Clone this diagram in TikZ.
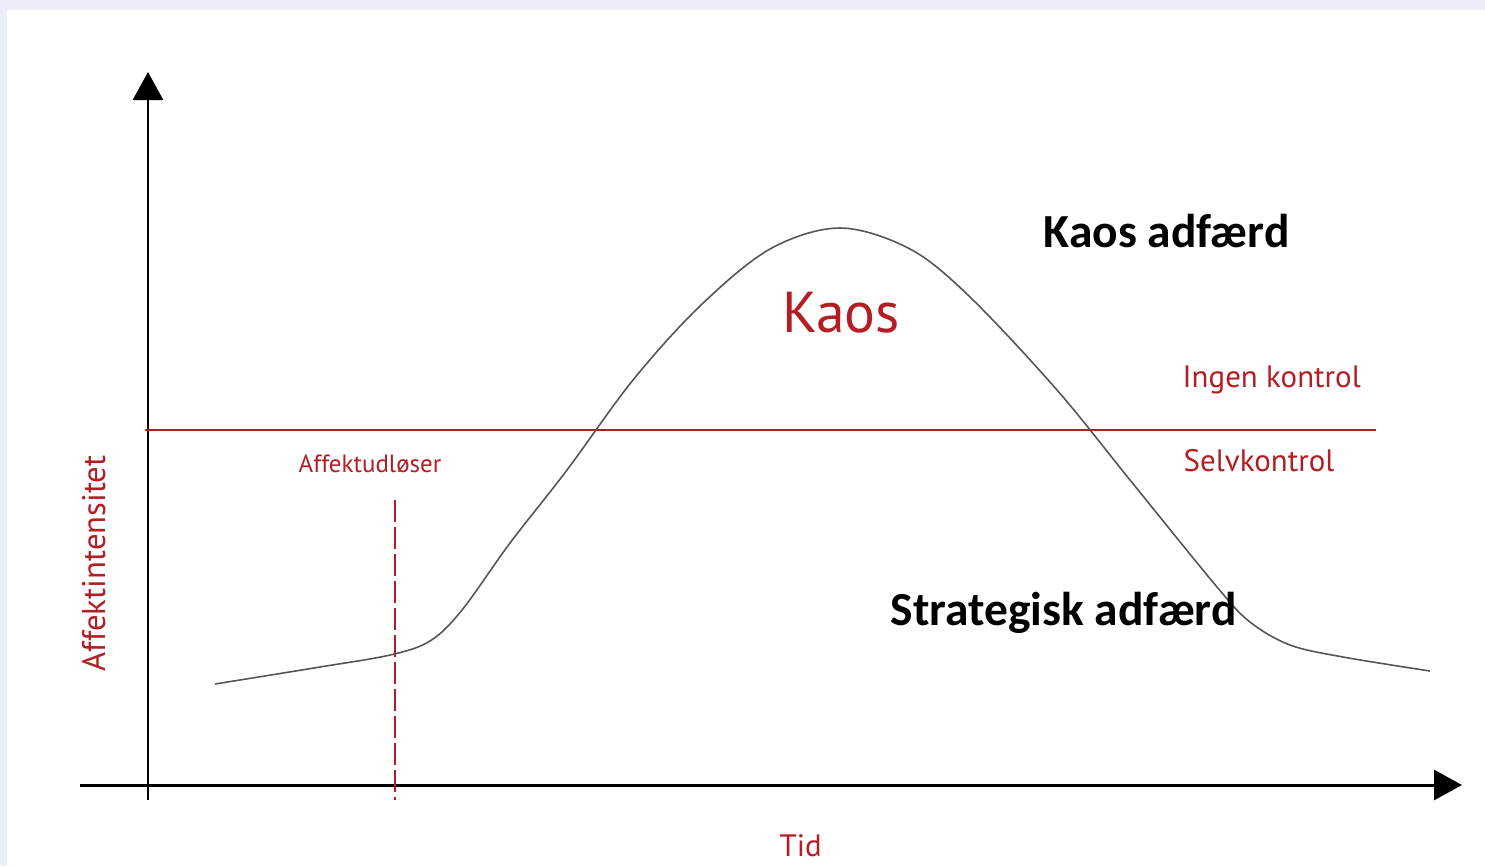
\documentclass[tikz,border=0pt]{standalone}
\usepackage{fontspec}
\usetikzlibrary{arrows.meta}
\newfontfamily\boldfont[BoldFont={Carlito Bold}]{Carlito}
\newfontfamily\redfont{PT Sans}
\definecolor{bgblue}{HTML}{EBEEF8}
\definecolor{kaosred}{HTML}{B31E24}
\definecolor{curvegray}{HTML}{555555}

\begin{document}
\begin{tikzpicture}[x=0.01cm,y=-0.01cm]

  \tikzstyle{axis}=[line width=0.85pt,-{Triangle[length=0.28cm,width=0.3cm]}]
  \tikzstyle{redlbl}=[kaosred,inner sep=0pt,font=\redfont\fontsize{8.8}{10}\selectfont]
  \tikzstyle{blklbl}=[black,inner sep=0pt,font=\boldfont\bfseries\fontsize{13.5}{16}\selectfont]

  \useasboundingbox (0,0) rectangle (1485,866);
  \fill[bgblue] (0,0) rectangle (1485,866);
  \fill[white] (7,10) rectangle (1485,866);

  % axes
  \coordinate (ybot) at (148,800);
  \coordinate (ytop) at (148,72);
  \coordinate (xleft) at (80,785);
  \coordinate (xright) at (1462,785);
  \draw[axis] (ybot) -- (ytop);
  \draw[axis] (xleft) -- (xright);

  % grænse mellem selvkontrol og kaos
  \coordinate (gl) at (145,430);
  \coordinate (gr) at (1376,430);
  \draw[kaosred,line width=0.75pt] (gl) -- (gr);

  \coordinate (udtop) at (395,500);
  \coordinate (udbot) at (395,800);
  \draw[kaosred,line width=0.75pt,dash pattern=on 0.22cm off 0.05cm] (udtop) -- (udbot);

  % affektkurven
  \draw[curvegray,line width=0.45pt] plot[smooth,tension=0.55] coordinates {
    (215,684) (320,667) (390,655) (430,641) (462,610) (510,543) (567,470)
    (633,380) (700,306) (770,249) (840,228) (910,249) (970,297) (1057,390)
    (1130,480) (1217,587) (1250,622) (1290,645) (1343,657) (1430,671)};

  \foreach \name/\pos/\text in {ingen/{1182,387}/Ingen kontrol,
                                selv/{1183,471}/Selvkontrol}
    \node[redlbl,anchor=base west] (\name) at (\pos) {\text};

  \node[redlbl,anchor=base west,font=\redfont\fontsize{7.1}{8}\selectfont] (udl) at (298,472) {Affektudløser};
  \node[redlbl,anchor=base west,rotate=90,font=\redfont\fontsize{9.3}{10}\selectfont] (intens) at (105,672) {Affektintensitet};
  \node[redlbl,anchor=base west,font=\redfont\fontsize{8.8}{10}\selectfont] (tid) at (779,856) {Tid};
  \node[redlbl,anchor=base west,font=\redfont\fontsize{16.4}{20}\selectfont] (kaos) at (782,332) {Kaos};

  \node[blklbl,anchor=base west] (kaosadf) at (1043,247) {Kaos adfærd};
  \node[blklbl,anchor=base west] (strat) at (890,625) {Strategisk adfærd};
\end{tikzpicture}
\end{document}
